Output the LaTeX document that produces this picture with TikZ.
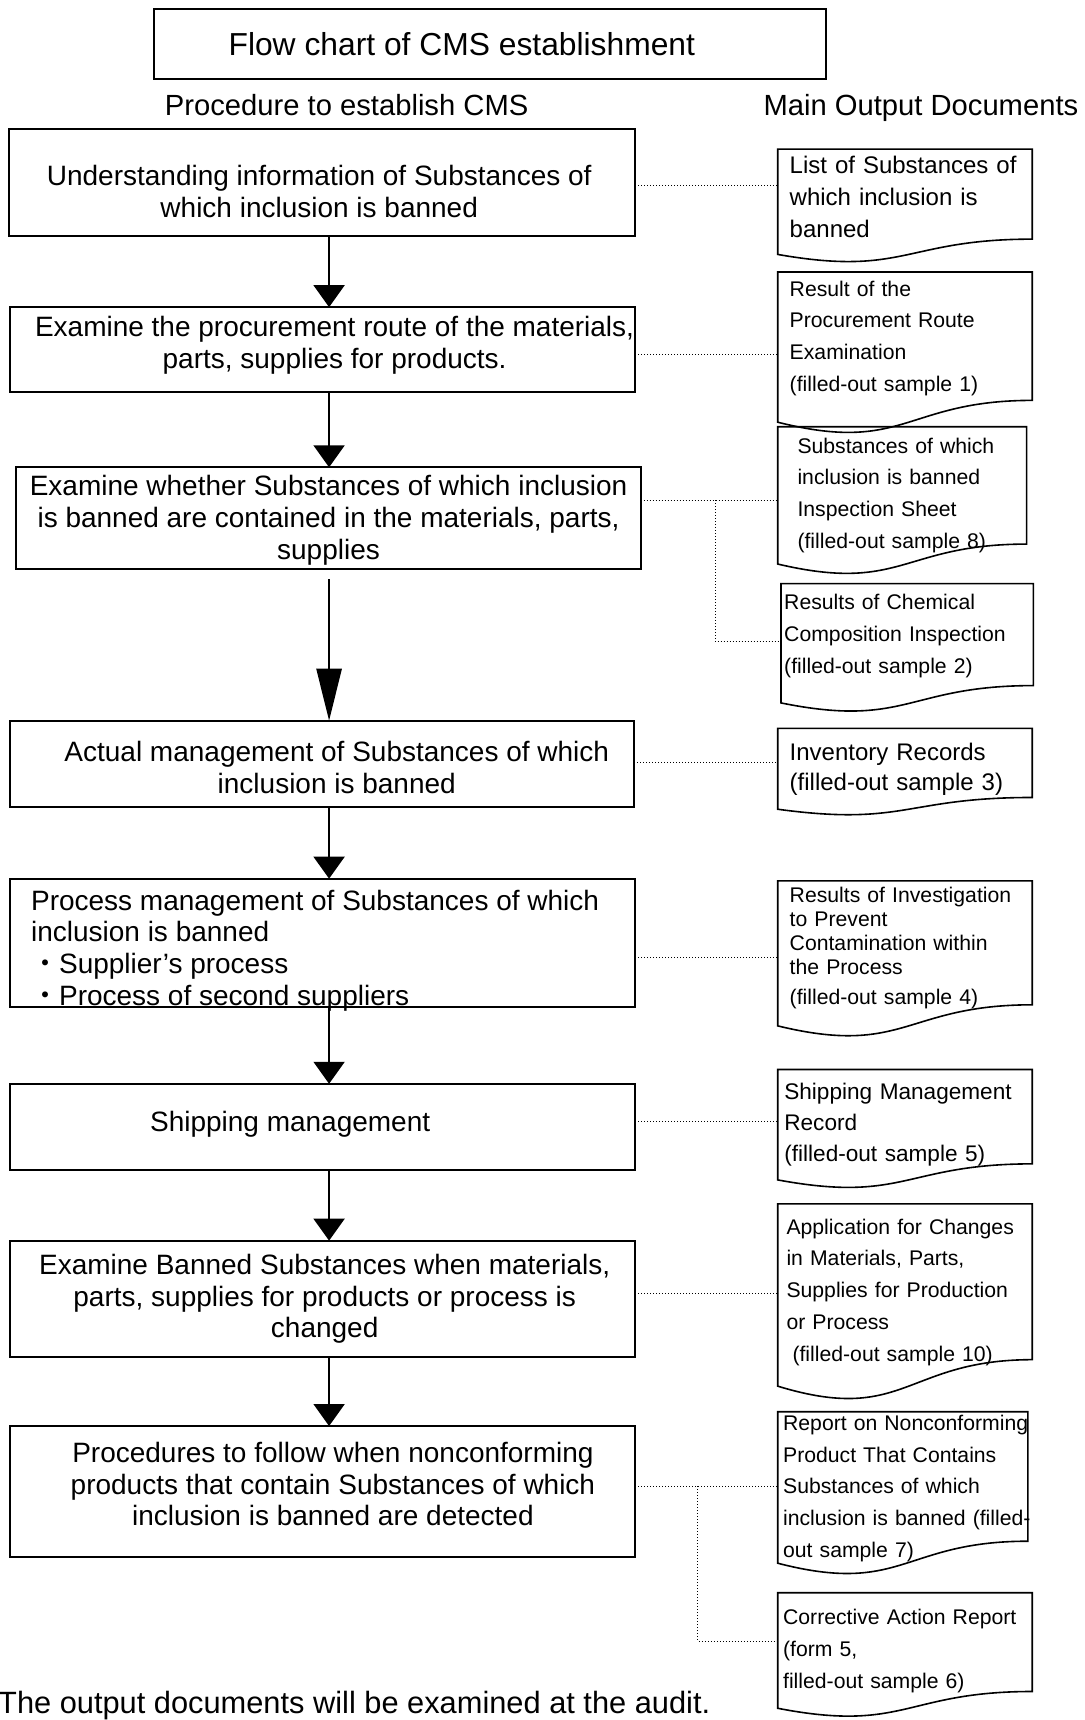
\documentclass[tikz,border=0pt]{standalone}
\usepackage{fontspec}
\setmainfont{Liberation Sans}
\newfontfamily\jpfont{Noto Sans CJK JP}
\usetikzlibrary{arrows.meta, calc}

\begin{document}
\begin{tikzpicture}[
    x=0.5486pt, y=-0.5486pt, % one unit per pixel of the sheet, y running down
    >={Triangle[length=11pt, width=15.5pt]}, % default arrow tip
    box/.style={draw, line width=1pt, inner sep=0pt, outer sep=0pt}, % step frame
    steptxt/.style={align=center, inner sep=0pt, font=\fontsize{14}{15.9}\selectfont}, % step text
    head/.style={font=\fontsize{14.6}{17}\selectfont}, % column heading
    doc/.style={anchor=north west, outer sep=0pt, inner xsep=6pt, text width=115.3pt,
        align=left, font=\fontsize{10.6}{15.9}\selectfont}, % output document text
    docline/.style={line width=0.8pt},
    arr/.style={->, line width=1pt},
    bigarr/.style={-{Triangle[length=26pt, width=12.6pt]}, line width=1pt},
    conn/.style={densely dotted, line width=0.5pt}
]
    \def\px{0.5486pt}
    \useasboundingbox (0,0) rectangle (989,1568);

    % Title and column headings
    \node[box, minimum width=613*\px, minimum height=64*\px] (title) at (446.5,40) {};
    \node[steptxt, font=\fontsize{15.9}{18}\selectfont] (titletxt) at (421,40)
        {Flow chart of CMS establishment};
    \node[head] (proc) at (316,96) {Procedure to establish CMS};
    \node[head] (outp) at (839.5,98.5) {Main Output Documents};

    % Procedure steps: frames
    \node[box, minimum width=571*\px, minimum height=97*\px] (b1) at (293.5,166.5) {};
    \node[box, minimum width=570*\px, minimum height=77*\px] (b2) at (294,318.5) {};
    \node[box, minimum width=569*\px, minimum height=93*\px] (b3) at (299.5,472.5) {};
    \node[box, minimum width=569*\px, minimum height=79*\px] (b4) at (293.5,696.5) {};
    \node[box, minimum width=570*\px, minimum height=117*\px] (b5) at (294,859.5) {};
    \node[box, minimum width=570*\px, minimum height=79*\px] (b6) at (294,1027.5) {};
    \node[box, minimum width=570*\px, minimum height=106*\px] (b7) at (294,1184) {};
    \node[box, minimum width=570*\px, minimum height=119*\px] (b8) at (294,1359.5) {};

    % Procedure steps: texts
    \node[steptxt] (t1) at (291,174.5)
        {Understanding information of Substances of\\which inclusion is banned};
    \node[steptxt] (t2) at (305,314.5)
        {Examine the procurement route of the materials,\\parts, supplies for products.};
    \node[steptxt] (t3) at (299.5,474.5)
        {Examine whether Substances of which inclusion\\is banned are contained in the materials, parts,\\supplies};
    \node[steptxt] (t4) at (307,699.5)
        {Actual management of Substances of which\\inclusion is banned};
    \node[steptxt, anchor=west, align=left] (t5) at (28,866.5)
        {Process management of Substances of which\\inclusion is banned\\{\jpfont ・}Supplier’s process\\{\jpfont ・}Process of second suppliers};
    \node[steptxt] (t6) at (264.5,1024.5) {Shipping management};
    \node[steptxt] (t7) at (296,1184)
        {Examine Banned Substances when materials,\\parts, supplies for products or process is\\changed};
    \node[steptxt] (t8) at (303.5,1353)
        {Procedures to follow when nonconforming\\products that contain Substances of which\\inclusion is banned are detected};

    % Arrows between the steps
    \coordinate (ax) at (300,0);
    \coordinate (a3) at (300,528);
    \foreach \a/\b in {b1/b2, b2/b3, b4/b5, b5/b6, b6/b7, b7/b8}
        \draw[arr] (\a.south -| ax) -- (\b.north -| ax);
    \draw[bigarr] (a3) -- (b4.north -| a3);

    % Output documents
    \node[doc, inner ysep=3.3pt, font=\fontsize{12}{16.2}\selectfont] (d1) at (709,136)
        {List of Substances of\\which inclusion is\\banned};
    \node[doc, inner ysep=4.4pt] (d2) at (709,248)
        {Result of the\\Procurement Route\\Examination\\(filled-out sample 1)};
    \node[doc, inner ysep=5.5pt, inner xsep=9.9pt, text width=104.7pt] (d3) at (709,389)
        {Substances of which\\inclusion is banned\\Inspection Sheet\\(filled-out sample 8)};
    \node[doc, inner ysep=5.5pt, inner xsep=1.6pt, text width=123pt] (d4) at (712,532)
        {Results of Chemical\\Composition Inspection\\(filled-out sample 2)};
    \node[doc, inner ysep=7.2pt, font=\fontsize{12}{15.4}\selectfont] (d5) at (709,664)
        {Inventory Records\\(filled-out sample 3)};
    \node[doc, inner ysep=3.3pt, font=\fontsize{10.6}{12}\selectfont] (d6) at (709,803)
        {Results of Investigation\\to Prevent\\Contamination within\\the Process\\[2.7pt](filled-out sample 4)};
    \node[doc, inner ysep=6.8pt, inner xsep=3.3pt, text width=120.7pt,
        font=\fontsize{11.3}{15.6}\selectfont] (d7) at (709,975)
        {Shipping Management\\Record\\(filled-out sample 5)};
    \node[doc, inner ysep=7.4pt, inner xsep=4.4pt, text width=118.5pt] (d8) at (709,1097.5)
        {Application for Changes\\in Materials, Parts,\\Supplies for Production\\or Process\\\hspace*{3pt}(filled-out sample 10)};
    \node[doc, inner ysep=1.6pt, inner xsep=2.7pt, text width=119.7pt] (d9) at (709,1287)
        {\mbox{Report on Nonconforming}\\Product That Contains\\Substances of which\\\mbox{inclusion is banned (filled-}\\out sample 7)};
    \node[doc, inner ysep=8.2pt, inner xsep=2.7pt, text width=121.9pt] (d10) at (709,1452)
        {Corrective Action Report\\(form 5,\\filled-out sample 6)};

    % Document outlines with the wavy lower edge
    \foreach \i/\h in {1/82, 2/117, 3/107, 4/93, 5/63, 6/113, 7/86, 8/142, 9/118, 10/90}
        \draw[docline] (d\i.north west) -- (d\i.north east) -- ++(0,\h)
            .. controls ($(d\i.north)+(0,\h)$) and ($(d\i.north)+(0,1.42*\h)$)
            .. ($(d\i.north west)+(0,1.17*\h)$) -- cycle;

    % Dotted links from the steps to their documents
    \foreach \b/\d/\y in {b1/d1/169, b2/d2/323, b3/d3/456, b4/d5/695,
                          b5/d6/873, b6/d7/1022, b7/d8/1179, b8/d9/1355}
        \draw[conn] (\b.east |- 0,\y) -- (\d.west |- 0,\y);
    \coordinate (j3) at (652,456);
    \coordinate (j8) at (636,1355);
    \draw[conn] (j3) |- (d4.west |- 0,585);
    \draw[conn] (j8) |- (d10.west |- 0,1496);

    % Note at the foot
    \node[anchor=west, inner sep=0pt, font=\fontsize{15.4}{18}\selectfont] (note) at (-2,1555)
        {The output documents will be examined at the audit.};

\end{tikzpicture}
\end{document}
